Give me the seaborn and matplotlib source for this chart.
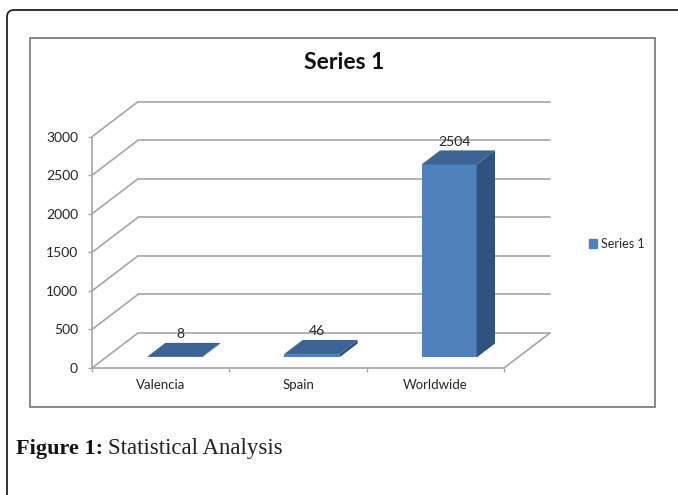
import matplotlib
matplotlib.use("Agg")
import matplotlib.pyplot as plt
from matplotlib.patches import Polygon, Rectangle, FancyBboxPatch
import seaborn as sns

categories = ["Valencia", "Spain", "Worldwide"]
values = [8, 46, 2504]
series_name = "Series 1"
y_ticks = [0, 500, 1000, 1500, 2000, 2500, 3000]
caption_bold = "Figure 1:"
caption_text = "Statistical Analysis"

FRONT = "#4f81bd"
SIDE = "#30527e"
TOP = "#3b6494"
GRID = "#a6a6a6"
TEXT = "#262626"

# oblique depth of the fake 3d box (data units) and where the bars sit in it
DEPTH_X = 0.335
DEPTH_Y = 454
BAR_FROM, BAR_TO = 0.3, 0.7

sns.set_style("white")
plt.rcParams["font.family"] = ["Lato", "DejaVu Sans"]

W, H = 678, 495
fig = plt.figure(figsize=(W / 100, H / 100), dpi=100)


def px_box(x0, y0, x1, y1):
    # pixel box (origin top-left) -> figure fraction rect
    return [x0 / W, 1 - y1 / H, (x1 - x0) / W, (y1 - y0) / H]


# outer rounded frame (runs off the right/bottom edge) and chart box
fig.add_artist(FancyBboxPatch((0.07, -0.5), 7.5, 5.35,
                              boxstyle="round,pad=0,rounding_size=0.07",
                              transform=fig.dpi_scale_trans, fill=False,
                              ec="#222222", lw=1.3))
fig.add_artist(Rectangle(px_box(30, 38, 655, 407)[:2], 625 / W, 369 / H,
                         transform=fig.transFigure, fill=False,
                         ec="#7f7f7f", lw=1.3))

ax = fig.add_axes(px_box(92, 101, 552, 368))
ax.set_facecolor("none")

left = -0.5
right = len(categories) - 0.5

# back wall gridlines + left wall diagonals
for v in y_ticks:
    ax.plot([left + DEPTH_X, right + DEPTH_X], [v + DEPTH_Y, v + DEPTH_Y],
            color=GRID, lw=1.2, zorder=1)
    ax.plot([left, left + DEPTH_X], [v, v + DEPTH_Y], color=GRID, lw=1.2, zorder=1)
ax.plot([right, right + DEPTH_X], [0, DEPTH_Y], color=GRID, lw=1.2, zorder=1)

sns.barplot(x=categories, y=values, width=0.4, color=FRONT, saturation=1,
            linewidth=0, ax=ax, zorder=3)
bars = list(ax.patches)

d = BAR_TO - BAR_FROM
for bar, v in zip(bars, values):
    bar.set_x(bar.get_x() + BAR_FROM * DEPTH_X)
    bar.set_y(BAR_FROM * DEPTH_Y)
    x0, y0, w, h = bar.get_x(), bar.get_y(), bar.get_width(), bar.get_height()
    dx, dy = d * DEPTH_X, d * DEPTH_Y
    side = [(x0 + w, y0), (x0 + w + dx, y0 + dy), (x0 + w + dx, y0 + h + dy), (x0 + w, y0 + h)]
    top = [(x0, y0 + h), (x0 + w, y0 + h), (x0 + w + dx, y0 + h + dy), (x0 + dx, y0 + h + dy)]
    ax.add_patch(Polygon(side, closed=True, fc=SIDE, ec="none", zorder=3))
    ax.add_patch(Polygon(top, closed=True, fc=TOP, ec="none", zorder=3))
    ax.annotate(str(v), (x0 + w / 2 + 0.3 * dx, y0 + h + dy), xytext=(0, 2),
                textcoords="offset points", ha="center", va="bottom",
                fontsize=10, color=TEXT)

ax.set_xlim(left, left + 460 / 137.33)
ax.set_ylim(0, (368 - 101) / 38.55 * 500)

for s in ["top", "right"]:
    ax.spines[s].set_visible(False)
ax.spines["left"].set_bounds(0, y_ticks[-1])
ax.spines["bottom"].set_bounds(left, right)
for s in ["left", "bottom"]:
    ax.spines[s].set_color(GRID)
    ax.spines[s].set_linewidth(1.2)

ax.set_yticks(y_ticks)
ax.set_xticks([left + i for i in range(len(categories) + 1)], labels=[""] * (len(categories) + 1))
ax.set_xticks(range(len(categories)), labels=categories, minor=True)
ax.tick_params(axis="y", left=True, length=3, width=1, color=GRID, pad=7,
               labelsize=10, labelcolor=TEXT)
ax.tick_params(axis="x", which="major", bottom=True, length=3, width=1, color=GRID)
ax.tick_params(axis="x", which="minor", bottom=True, length=0, pad=8,
               labelsize=9.5, labelcolor=TEXT)
ax.set_xlabel("")
ax.set_ylabel("")

fig.text(344 / W, 1 - 63 / H, series_name, ha="center", va="center",
         fontsize=16.5, fontweight="bold", color="#111111")

fig.legend([Rectangle((0, 0), 1, 1, color=FRONT)], [series_name],
           loc="center left", bbox_to_anchor=(589 / W, 1 - 244 / H),
           frameon=False, fontsize=9, handlelength=0.65, handleheight=0.65,
           handletextpad=0.3, borderpad=0, borderaxespad=0,
           labelcolor=TEXT)

t1 = fig.text(16 / W, 1 - 454 / H, caption_bold, family=["Liberation Serif"],
              weight="bold", size=16, va="baseline", color="#111111")
bb = t1.get_window_extent(fig.canvas.get_renderer())
fig.text((bb.x1 + 5) / W, 1 - 454 / H, caption_text, family=["Liberation Serif"],
         size=16.5, va="baseline", color="#222222")

fig.savefig("out.png", dpi=100)
